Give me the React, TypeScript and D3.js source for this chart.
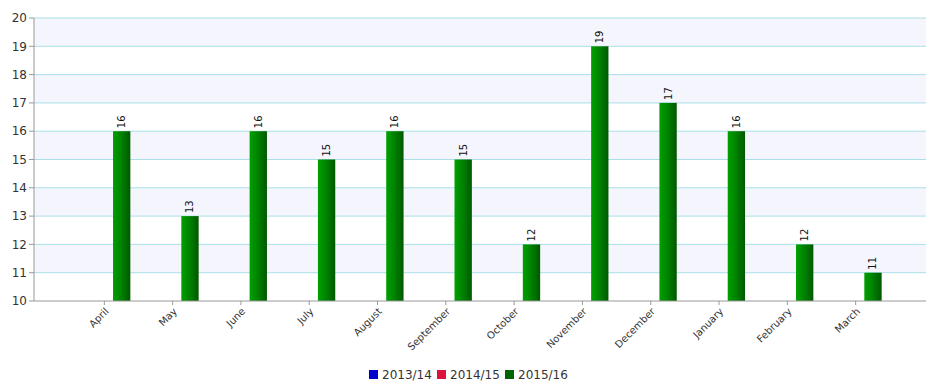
import React from "react";
import * as d3 from "d3";

const months = ["April", "May", "June", "July", "August", "September", "October", "November", "December", "January", "February", "March"];
const seriesNames = ["2013/14", "2014/15", "2015/16"];
const seriesColors = ["#0000cc", "#dc143c", "#006400"];
const values2013: (number | null)[] = [null, null, null, null, null, null, null, null, null, null, null, null];
const values2014: (number | null)[] = [null, null, null, null, null, null, null, null, null, null, null, null];
const values2015: (number | null)[] = [16, 13, 16, 15, 16, 15, 12, 19, 17, 16, 12, 11];
const yTicks = [10, 11, 12, 13, 14, 15, 16, 17, 18, 19, 20];

const W = 933;
const H = 383;
const left = 34;
const right = 926;
const top = 18;
const bottom = 301;
const font = "'DejaVu Sans', Verdana, sans-serif";

export default function App() {
  const series = [values2013, values2014, values2015];
  const x = d3.scalePoint<string>().domain(months).range([left, right]).padding(1.03);
  const x1 = d3.scaleBand<string>().domain(seriesNames).range([-26, 26]);
  const y = d3.scaleLinear().domain([10, 20]).range([bottom, top]);

  const bands = yTicks.slice(0, -1).map((t, i) => ({ lo: t, hi: t + 1, tinted: i % 2 === 1 }));

  const legendItemW = 68;
  const legendStart = 369;

  return (
    <svg width={W} height={H} style={{ position: "absolute", left: 0, top: 0, fontFamily: font }}>
      <defs>
        <linearGradient id="gbar" x1="0" x2="1" y1="0" y2="0">
          <stop offset="0" stopColor="#00a000" />
          <stop offset="0.45" stopColor="#008400" />
          <stop offset="1" stopColor="#005800" />
        </linearGradient>
      </defs>
      <rect x={0} y={0} width={W} height={H} fill="#ffffff" />
      {bands.map((b, i) =>
        b.tinted ? (
          <rect key={i} x={left} y={y(b.hi)} width={right - left} height={y(b.lo) - y(b.hi)} fill="#f5f6fd" />
        ) : null
      )}
      {yTicks.slice(1).map((t) => (
        <line key={t} x1={left} x2={right} y1={y(t)} y2={y(t)} stroke="#a9dfe8" strokeWidth={1} />
      ))}
      {/* bars */}
      {series.map((vals, si) =>
        vals.map((v, i) => {
          if (v == null) return null;
          const bx = (x(months[i]) as number) + (x1(seriesNames[si]) as number);
          const bw = x1.bandwidth();
          return (
            <g key={`${si}-${i}`}>
              <rect x={bx} y={y(v)} width={bw} height={y(10) - y(v)} fill={si === 2 ? "url(#gbar)" : seriesColors[si]} />
              <text
                transform={`translate(${bx + bw / 2 + 3.5},${y(v) - 3}) rotate(-90)`}
                fontSize={10}
                fill="#111"
                textAnchor="start"
              >
                {v}
              </text>
            </g>
          );
        })
      )}
      {/* y axis */}
      <line x1={left} x2={left} y1={top} y2={bottom} stroke="#999" strokeWidth={1} />
      {yTicks.map((t) => (
        <g key={t}>
          <line x1={left - 5} x2={left} y1={y(t)} y2={y(t)} stroke="#999" />
          <text x={left - 7} y={y(t)} dy="0.35em" textAnchor="end" fontSize={12} fill="#333">
            {t}
          </text>
        </g>
      ))}
      {/* x axis */}
      <line x1={left} x2={right} y1={bottom} y2={bottom} stroke="#999" strokeWidth={1} />
      {months.map((m) => {
        const tx = x(m) as number;
        return (
          <g key={m}>
            <line x1={tx} x2={tx} y1={bottom} y2={bottom + 4} stroke="#999" />
            <text
              transform={`translate(${tx + 5},${bottom + 11}) rotate(-45)`}
              textAnchor="end"
              fontSize={10}
              fill="#333"
            >
              {m}
            </text>
          </g>
        );
      })}
      {/* legend */}
      {seriesNames.map((s, i) => (
        <g key={s} transform={`translate(${legendStart + i * legendItemW},370)`}>
          <rect x={0} y={0} width={9} height={9} fill={seriesColors[i]} />
          <text x={13} y={9} fontSize={12} fill="#333">
            {s}
          </text>
        </g>
      ))}
    </svg>
  );
}
